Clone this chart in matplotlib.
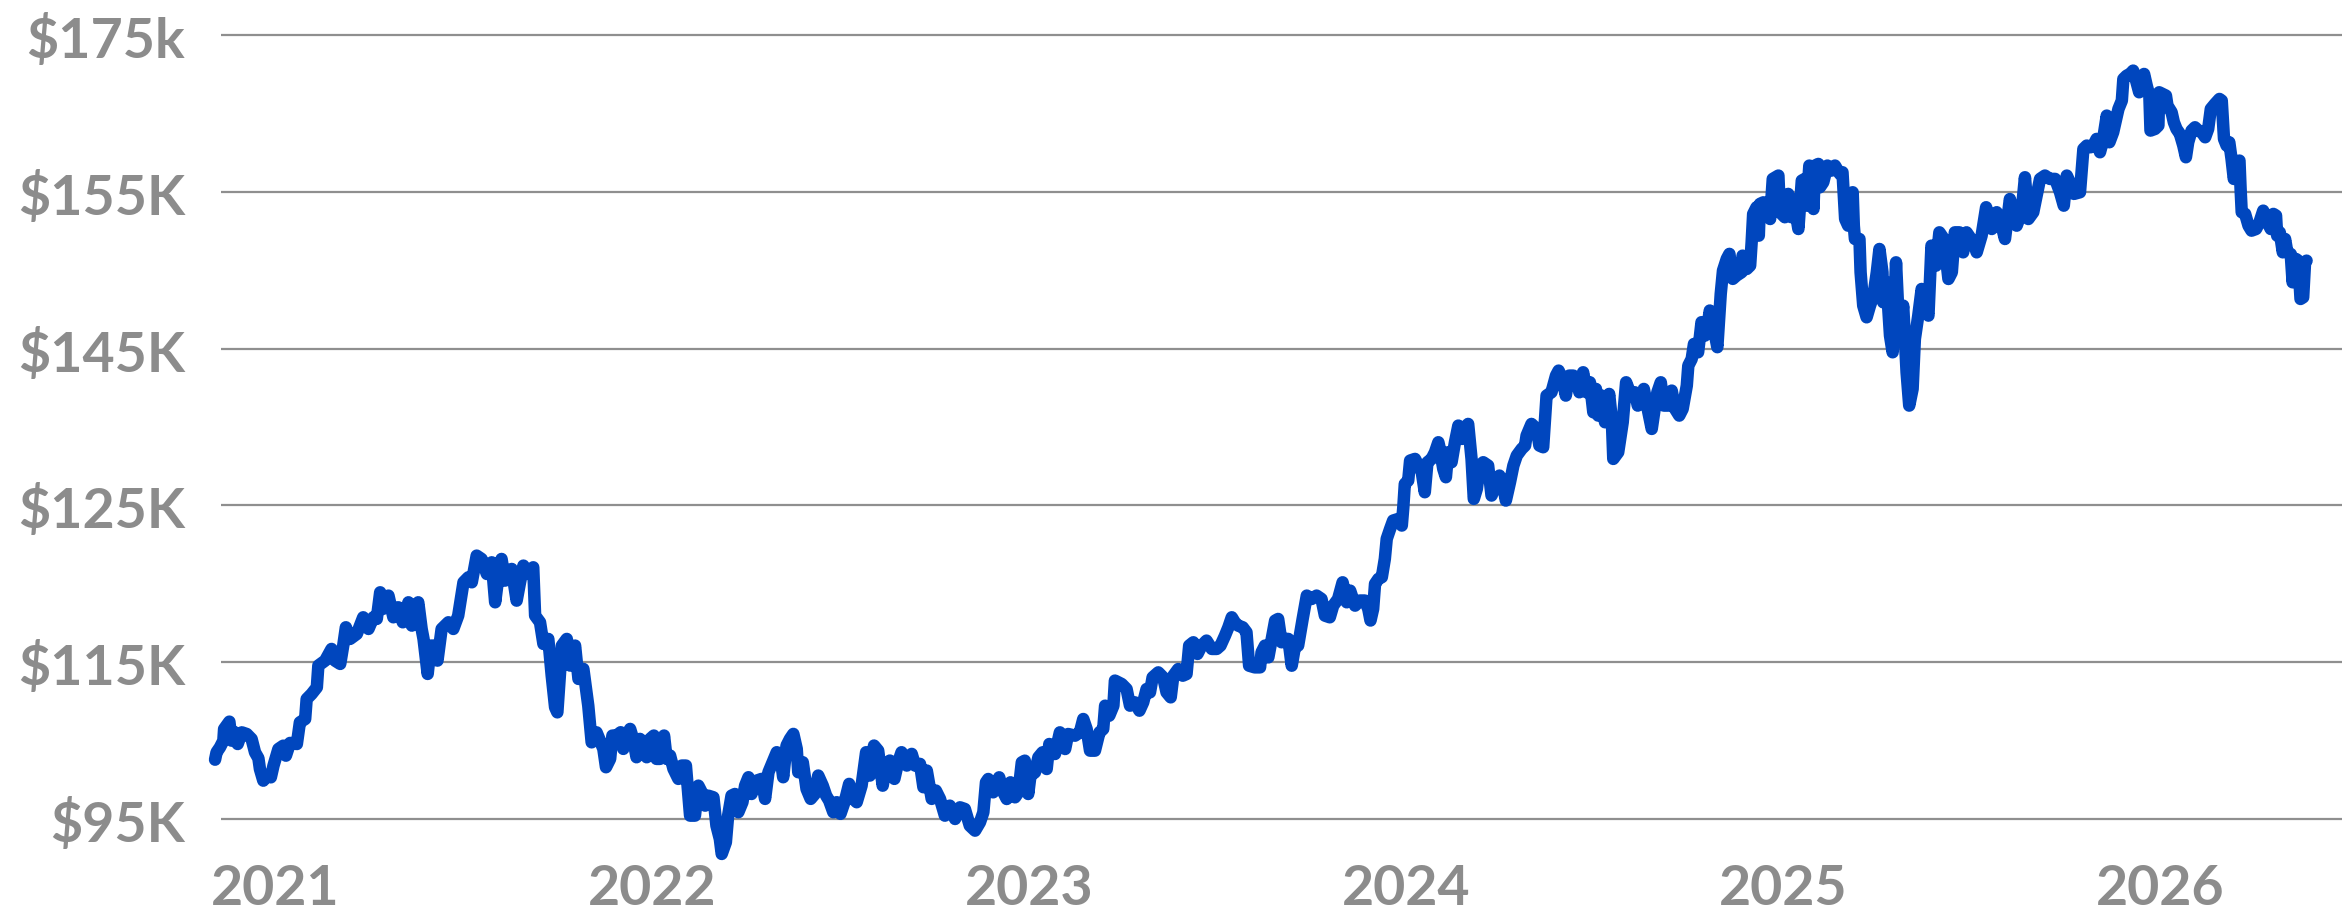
import matplotlib
matplotlib.use("Agg")
import matplotlib.pyplot as plt
import numpy as np

# portfolio value over time (decimal year, $K on the chart's scale)
years = [
    2021.000, 2021.004, 2021.013, 2021.022, 2021.024, 2021.038, 2021.044, 2021.053, 2021.060, 2021.071,
    2021.084, 2021.097, 2021.106, 2021.115, 2021.119, 2021.128, 2021.137, 2021.148, 2021.155, 2021.168,
    2021.181, 2021.188, 2021.199, 2021.217, 2021.225, 2021.239, 2021.243, 2021.256, 2021.270, 2021.274,
    2021.292, 2021.309, 2021.318, 2021.332, 2021.340, 2021.347, 2021.358, 2021.376, 2021.393, 2021.407,
    2021.420, 2021.429, 2021.438, 2021.445, 2021.460, 2021.473, 2021.486, 2021.498, 2021.513, 2021.522,
    2021.539, 2021.548, 2021.553, 2021.564, 2021.572, 2021.584, 2021.590, 2021.601, 2021.619, 2021.632,
    2021.645, 2021.659, 2021.672, 2021.681, 2021.694, 2021.707, 2021.721, 2021.734, 2021.743, 2021.752,
    2021.760, 2021.769, 2021.787, 2021.800, 2021.809, 2021.818, 2021.831, 2021.844, 2021.849, 2021.862,
    2021.871, 2021.884, 2021.893, 2021.902, 2021.908, 2021.920, 2021.933, 2021.942, 2021.955, 2021.964,
    2021.977, 2021.990, 2021.999, 2022.012,
    2022.030, 2022.037, 2022.048, 2022.054, 2022.065, 2022.076, 2022.083, 2022.092, 2022.101, 2022.109,
    2022.118, 2022.127, 2022.136, 2022.145, 2022.154, 2022.164, 2022.171, 2022.180, 2022.191, 2022.198,
    2022.207, 2022.216, 2022.229, 2022.238, 2022.249, 2022.260, 2022.273, 2022.282, 2022.291, 2022.300,
    2022.308, 2022.322, 2022.330, 2022.339, 2022.344, 2022.355, 2022.361, 2022.370, 2022.379, 2022.388,
    2022.399, 2022.406, 2022.415, 2022.423, 2022.437, 2022.450, 2022.459, 2022.468, 2022.479, 2022.490,
    2022.499, 2022.507, 2022.516, 2022.525, 2022.534, 2022.543, 2022.547, 2022.559, 2022.569, 2022.580,
    2022.591, 2022.600, 2022.612, 2022.621, 2022.629, 2022.640, 2022.649, 2022.659, 2022.671, 2022.682,
    2022.693, 2022.702, 2022.715, 2022.727, 2022.737, 2022.748, 2022.759, 2022.771, 2022.780, 2022.790,
    2022.802, 2022.812, 2022.821, 2022.835, 2022.848, 2022.857, 2022.870, 2022.879, 2022.888, 2022.901,
    2022.912, 2022.923, 2022.936, 2022.949, 2022.963, 2022.976, 2022.989, 2023.002, 2023.016,
    2023.029, 2023.038, 2023.045, 2023.051, 2023.064, 2023.080, 2023.091, 2023.100, 2023.110, 2023.122,
    2023.131, 2023.140, 2023.148, 2023.157, 2023.163, 2023.175, 2023.184, 2023.195, 2023.206, 2023.213,
    2023.228, 2023.241, 2023.255, 2023.263, 2023.281, 2023.294, 2023.303, 2023.312, 2023.321, 2023.334,
    2023.346, 2023.356, 2023.361, 2023.372, 2023.383, 2023.387, 2023.405, 2023.418, 2023.427, 2023.440,
    2023.452, 2023.462, 2023.471, 2023.480, 2023.487, 2023.502, 2023.515, 2023.524, 2023.535, 2023.542,
    2023.555, 2023.567, 2023.577, 2023.584, 2023.595, 2023.606, 2023.617, 2023.630, 2023.644, 2023.657,
    2023.667, 2023.679, 2023.688, 2023.697, 2023.705, 2023.714, 2023.726, 2023.736, 2023.743, 2023.758,
    2023.772, 2023.776, 2023.785, 2023.794, 2023.803, 2023.812, 2023.820, 2023.829, 2023.838, 2023.847,
    2023.856, 2023.865, 2023.873, 2023.885, 2023.896, 2023.909, 2023.922, 2023.935, 2023.944, 2023.957,
    2023.966, 2023.979, 2023.991, 2024.002, 2024.011, 2024.024,
    2024.037, 2024.050, 2024.059, 2024.065, 2024.072, 2024.077, 2024.086, 2024.095, 2024.103, 2024.108,
    2024.117, 2024.125, 2024.139, 2024.148, 2024.152, 2024.156, 2024.165, 2024.170, 2024.183, 2024.192,
    2024.201, 2024.209, 2024.216, 2024.227, 2024.236, 2024.245, 2024.249, 2024.258, 2024.265, 2024.271,
    2024.280, 2024.289, 2024.298, 2024.307, 2024.316, 2024.324, 2024.333, 2024.339, 2024.347, 2024.355,
    2024.364, 2024.377, 2024.386, 2024.395, 2024.407, 2024.415, 2024.424, 2024.435, 2024.444, 2024.453,
    2024.466, 2024.475, 2024.479, 2024.492, 2024.506, 2024.513, 2024.523, 2024.528, 2024.532, 2024.545,
    2024.557, 2024.564, 2024.575, 2024.583, 2024.592, 2024.603, 2024.612, 2024.619, 2024.629, 2024.638,
    2024.647, 2024.656, 2024.663, 2024.669, 2024.678, 2024.687, 2024.698, 2024.705, 2024.709, 2024.722,
    2024.734, 2024.743, 2024.753, 2024.766, 2024.774, 2024.784, 2024.790, 2024.802, 2024.811, 2024.820,
    2024.826, 2024.835, 2024.843, 2024.855, 2024.864, 2024.873, 2024.884, 2024.893, 2024.904, 2024.908,
    2024.917, 2024.923, 2024.934, 2024.943, 2024.952, 2024.957, 2024.965, 2024.974, 2024.985, 2024.994,
    2025.000, 2025.010, 2025.017, 2025.026, 2025.036,
    2025.049, 2025.052, 2025.063, 2025.072, 2025.076, 2025.080, 2025.089, 2025.095, 2025.098, 2025.107,
    2025.116, 2025.125, 2025.132, 2025.147, 2025.151, 2025.164, 2025.173, 2025.182, 2025.187, 2025.200,
    2025.209, 2025.217, 2025.222, 2025.229, 2025.240, 2025.244, 2025.253, 2025.257, 2025.266, 2025.277,
    2025.288, 2025.297, 2025.310, 2025.317, 2025.324, 2025.332, 2025.344, 2025.347, 2025.350, 2025.362,
    2025.365, 2025.372, 2025.381, 2025.390, 2025.399, 2025.408, 2025.415, 2025.423, 2025.425, 2025.434,
    2025.443, 2025.450, 2025.459, 2025.468, 2025.478, 2025.487, 2025.494, 2025.503, 2025.509, 2025.518,
    2025.527, 2025.536, 2025.545, 2025.553, 2025.565, 2025.574, 2025.586, 2025.598, 2025.607, 2025.615,
    2025.627, 2025.637, 2025.646, 2025.664, 2025.673, 2025.686, 2025.698, 2025.713, 2025.726, 2025.739,
    2025.748, 2025.761, 2025.779, 2025.792, 2025.801, 2025.810, 2025.823, 2025.832, 2025.841, 2025.854,
    2025.867, 2025.881, 2025.894, 2025.904, 2025.912, 2025.920, 2025.931, 2025.947, 2025.956, 2025.965,
    2025.975, 2025.982, 2025.991, 2026.000, 2026.007, 2026.018, 2026.025, 2026.035,
    2026.049, 2026.058, 2026.062, 2026.071, 2026.080, 2026.088, 2026.097, 2026.104, 2026.111, 2026.117,
    2026.124, 2026.131, 2026.134, 2026.146, 2026.155, 2026.157, 2026.166, 2026.175, 2026.179, 2026.190,
    2026.196, 2026.203, 2026.212, 2026.221, 2026.228, 2026.234, 2026.243, 2026.252, 2026.261, 2026.270,
    2026.279, 2026.287, 2026.294, 2026.305, 2026.317, 2026.323, 2026.329, 2026.336, 2026.343, 2026.349,
    2026.355, 2026.363, 2026.370, 2026.373, 2026.376, 2026.385, 2026.394, 2026.402, 2026.414, 2026.423,
    2026.433, 2026.442, 2026.453, 2026.460, 2026.467, 2026.470, 2026.477, 2026.485, 2026.491, 2026.497,
    2026.506, 2026.511, 2026.520, 2026.526, 2026.532, 2026.539, 2026.544, 2026.548,
]
values = [
    101.05, 101.80, 102.31, 102.99, 104.18, 104.93, 102.99, 103.84, 102.65, 103.84,
    103.67, 103.16, 101.80, 101.19, 100.10, 98.91, 99.42, 99.25, 100.44, 102.14,
    102.48, 101.46, 102.76, 102.65, 104.86, 105.20, 107.24, 107.75, 108.43, 110.65,
    111.16, 112.35, 111.16, 110.82, 112.69, 114.56, 113.37, 113.88, 115.58, 114.39,
    115.58, 115.41, 118.13, 116.43, 117.79, 115.58, 116.60, 115.07, 117.11, 114.73,
    117.11, 114.39, 113.37, 109.80, 112.69, 112.69, 111.16, 114.39, 115.07, 114.39,
    115.75, 119.15, 119.66, 119.15, 121.87, 121.53, 120.00, 121.19, 117.11, 119.83,
    121.53, 119.32, 120.51, 117.28, 119.15, 120.85, 120.00, 120.68, 115.75, 115.07,
    112.86, 113.37, 109.63, 106.39, 105.88, 112.69, 113.37, 110.65, 112.69, 109.29,
    110.31, 106.56, 102.82, 103.84,
    102.15, 100.28, 101.13, 103.51, 103.51, 103.85, 102.15, 103.51, 104.19, 103.17,
    101.30, 103.17, 102.83, 101.30, 103.17, 103.51, 101.13, 101.13, 103.51, 101.13,
    101.47, 100.11, 99.09, 100.45, 100.45, 95.34, 95.34, 98.40, 97.72, 96.36,
    97.38, 97.21, 94.32, 92.96, 91.43, 92.62, 95.34, 97.38, 97.55, 95.69,
    96.71, 98.40, 99.26, 97.55, 98.92, 99.09, 97.05, 99.77, 100.79, 101.81,
    101.64, 99.26, 102.49, 103.17, 103.68, 102.15, 99.77, 100.79, 98.06, 97.05,
    97.55, 99.43, 98.40, 97.38, 96.87, 95.69, 96.71, 95.52, 96.87, 98.58,
    97.05, 96.71, 98.40, 101.81, 99.43, 102.49, 101.98, 98.40, 100.45, 100.96,
    99.09, 100.79, 101.81, 100.45, 101.64, 100.45, 100.62, 98.24, 99.94, 97.05,
    97.90, 97.05, 95.34, 96.36, 95.00, 96.19, 96.02, 94.32, 93.81,
    94.66, 95.68, 98.74, 99.08, 97.72, 99.25, 97.72, 97.04, 98.74, 97.21,
    97.72, 100.78, 100.95, 97.55, 99.42, 99.76, 101.29, 101.80, 100.10, 102.65,
    101.63, 103.84, 102.14, 103.67, 103.50, 103.84, 105.20, 104.18, 101.97, 101.97,
    103.84, 104.18, 106.56, 105.54, 106.56, 109.12, 108.77, 108.26, 106.56, 106.90,
    106.05, 106.90, 108.26, 107.92, 109.45, 109.96, 109.45, 107.92, 107.41, 109.62,
    110.30, 109.62, 109.79, 112.69, 113.03, 111.84, 112.69, 113.20, 112.35, 112.35,
    112.69, 113.71, 114.56, 115.58, 115.07, 114.73, 114.56, 114.05, 110.64, 110.47,
    110.47, 112.01, 112.69, 111.49, 113.37, 115.24, 115.41, 113.03, 113.37, 113.37,
    110.64, 112.69, 112.69, 115.41, 117.79, 117.45, 117.79, 117.45, 115.75, 115.58,
    116.77, 117.45, 119.15, 117.11, 118.30, 116.77,
    117.29, 117.29, 116.44, 115.25, 116.44, 118.99, 119.50, 119.67, 121.54, 123.58,
    124.60, 125.45, 125.62, 124.94, 126.81, 129.19, 129.53, 131.57, 131.74, 131.06,
    130.38, 128.34, 131.40, 131.74, 132.42, 133.44, 132.76, 130.72, 129.87, 132.42,
    131.40, 133.44, 135.14, 133.78, 134.97, 135.31, 131.74, 127.66, 128.68, 131.06,
    131.40, 131.06, 128.00, 128.85, 130.04, 129.36, 127.49, 129.36, 131.06, 132.08,
    132.76, 133.10, 134.12, 135.31, 134.80, 133.10, 132.93, 135.82, 138.20, 138.54,
    140.24, 140.75, 139.73, 138.20, 140.24, 140.24, 139.90, 138.54, 140.58, 138.54,
    139.56, 136.50, 138.88, 136.16, 138.20, 135.48, 138.37, 135.82, 131.74, 132.42,
    135.48, 139.56, 138.54, 138.54, 137.18, 137.69, 138.88, 136.50, 134.80, 137.18,
    138.54, 139.56, 137.18, 137.18, 138.71, 136.84, 136.16, 136.84, 139.22, 141.26,
    141.94, 143.47, 142.62, 145.69, 144.32, 144.84, 146.88, 145.35, 143.14, 148.58,
    150.96, 152.15, 152.66, 150.11, 150.45,
    150.78, 152.48, 151.12, 151.46, 153.84, 156.73, 157.42, 154.52, 157.76, 157.92,
    157.58, 156.22, 160.31, 160.65, 156.91, 156.40, 158.78, 156.40, 158.26, 155.20,
    160.14, 160.31, 157.58, 161.67, 157.24, 161.67, 161.84, 159.46, 159.97, 161.67,
    161.16, 161.67, 160.82, 160.99, 156.22, 155.54, 158.95, 155.54, 154.18, 154.18,
    150.78, 147.38, 146.19, 147.38, 148.40, 150.78, 153.16, 150.78, 147.72, 149.76,
    144.32, 142.62, 151.80, 144.32, 147.38, 140.58, 137.18, 138.88, 143.98, 146.36,
    149.08, 147.38, 146.36, 153.50, 151.46, 154.86, 154.18, 150.10, 150.78, 154.86,
    154.86, 152.82, 154.86, 153.84, 152.82, 154.52, 157.42, 155.20, 156.91, 155.54,
    154.18, 158.26, 155.54, 156.91, 160.48, 156.22, 156.91, 158.61, 160.31, 160.65,
    160.31, 160.31, 158.95, 157.58, 160.65, 159.97, 158.78, 158.95, 163.37, 163.71,
    163.54, 163.71, 164.39, 163.03, 164.05, 166.77, 164.05, 165.07,
    167.45, 168.30, 170.51, 170.85, 171.02, 171.36, 170.17, 169.15, 170.17, 171.02,
    169.83, 168.81, 165.24, 165.41, 165.75, 169.15, 168.98, 168.81, 167.79, 167.11,
    166.09, 165.41, 164.90, 163.71, 162.52, 164.05, 165.24, 165.58, 165.24, 165.07,
    164.56, 165.41, 167.45, 167.96, 168.47, 168.30, 164.39, 163.71, 164.05, 162.35,
    160.31, 161.67, 162.18, 159.29, 156.91, 156.74, 155.54, 155.03, 155.20, 155.88,
    157.07, 156.05, 155.20, 156.74, 156.57, 154.52, 154.86, 152.82, 154.18, 152.82,
    152.65, 149.76, 152.14, 151.97, 148.06, 148.23, 151.80, 151.97,
]

year_ticks = [2021, 2022, 2023, 2024, 2025, 2026]
y_tick_labels = ["$95K", "$115K", "$125K", "$145K", "$155K", "$175k"]

LINE_BLUE = "#0046BE"
GREY = "#8c8c8c"

plt.rcParams["font.family"] = ["Lato", "DejaVu Sans"]
plt.rcParams["font.weight"] = "bold"

fig = plt.figure(figsize=(23.42, 9.12), dpi=100)
ax = fig.add_axes([0.0944, 0.0461, 0.9056, 0.9320])

ax.plot(years, values, color=LINE_BLUE, linewidth=9,
        solid_joinstyle="round", solid_capstyle="round", clip_on=False, zorder=3)

ax.set_xlim(2021.016, 2026.642)
ax.set_ylim(89.9, 176.63)

# evenly spaced gridlines, labelled as in the original
ax.set_yticks(np.linspace(95, 175, len(y_tick_labels)))
ax.set_yticklabels(y_tick_labels)
ax.yaxis.grid(True, color="#8f8f8f", linewidth=1.6)
ax.set_axisbelow(True)

ax.set_xticks([y + 0.16 for y in year_ticks])
ax.set_xticklabels([str(y) for y in year_ticks])

ax.tick_params(axis="y", length=0, pad=26, labelsize=40, labelcolor=GREY)
ax.tick_params(axis="x", length=0, pad=25.5, labelsize=40, labelcolor=GREY)
for lab in ax.get_xticklabels():
    lab.set_fontweight("bold")
    lab.set_verticalalignment("baseline")
for lab in ax.get_yticklabels():
    lab.set_fontweight("bold")

for side in ("top", "right", "bottom", "left"):
    ax.spines[side].set_visible(False)

fig.savefig("out.png", dpi=100)
